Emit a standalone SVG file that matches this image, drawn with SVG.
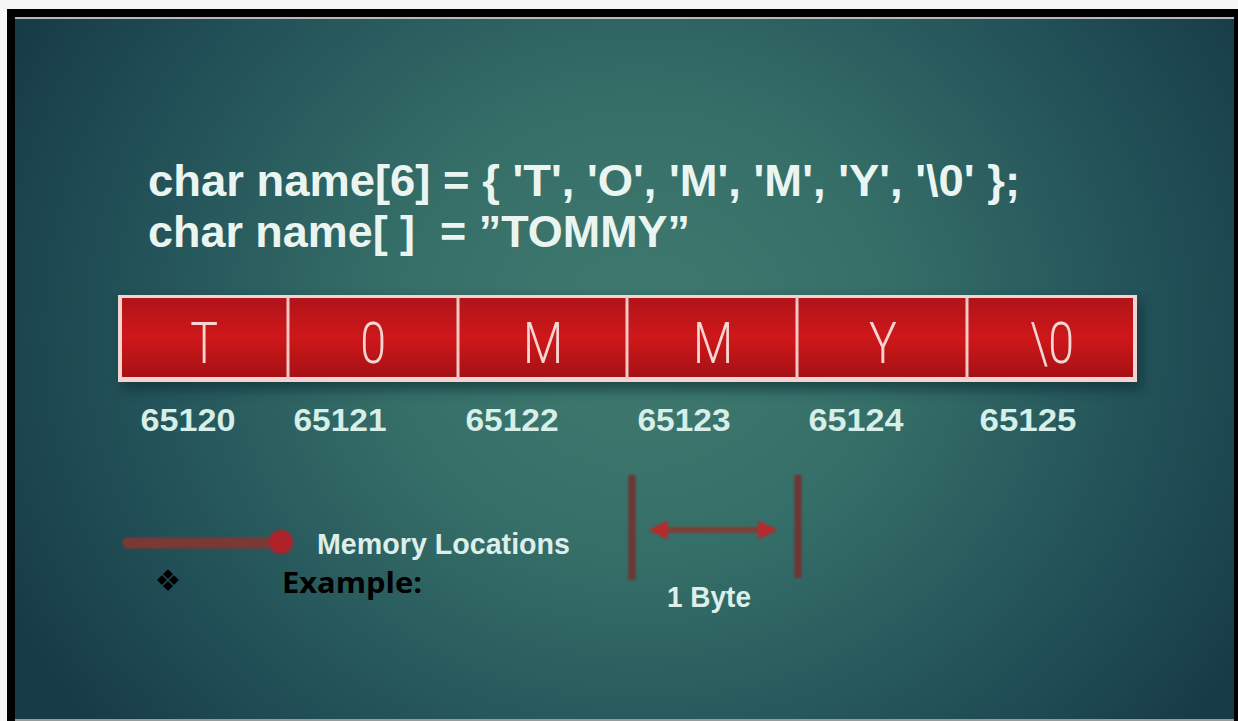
<svg xmlns="http://www.w3.org/2000/svg" width="1238" height="721" viewBox="0 0 1238 721">
  <defs>
    <!-- teal slide background, lighter towards the middle -->
    <radialGradient id="bg" gradientUnits="userSpaceOnUse" cx="640" cy="330" r="700" gradientTransform="translate(640 330) scale(1 0.9) translate(-640 -330)">
      <stop offset="0" stop-color="#3f7a6f"/>
      <stop offset="0.35" stop-color="#366f68"/>
      <stop offset="0.7" stop-color="#24545a"/>
      <stop offset="1" stop-color="#173c48"/>
    </radialGradient>
    <linearGradient id="cell" x1="0" y1="0" x2="0" y2="1">
      <stop offset="0" stop-color="#b0141a"/>
      <stop offset="0.5" stop-color="#cf1719"/>
      <stop offset="1" stop-color="#a51116"/>
    </linearGradient>
    <filter id="soft" x="-10%" y="-30%" width="120%" height="160%">
      <feGaussianBlur stdDeviation="6"/>
    </filter>
    <!-- canvas-wide region so thin horizontal/vertical strokes keep their blur -->
    <filter id="blur1" filterUnits="userSpaceOnUse" x="0" y="0" width="1238" height="721">
      <feGaussianBlur stdDeviation="1.2"/>
    </filter>
    <marker id="head" viewBox="0 0 10 10" refX="3" refY="5" markerWidth="3.2" markerHeight="3.2" orient="auto-start-reverse">
      <path d="M0,0 L10,5 L0,10 z" fill="#b52a2c"/>
    </marker>
    <style>
      .code { font-family: "Liberation Sans", Arial, sans-serif; font-weight: 700; font-size: 45px; fill: #eaf5f2; }
      .cellChar { font-family: Roboto, "Liberation Sans", sans-serif; font-weight: 300; font-size: 58px; fill: #f6d6d2; text-anchor: middle; }
      .addr { font-family: "Liberation Sans", Arial, sans-serif; font-weight: 700; font-size: 31px; fill: #d6efe9; text-anchor: middle; }
      .label { font-family: "Liberation Sans", Arial, sans-serif; font-weight: 700; font-size: 29px; fill: #dcefeb; }
      .example { font-family: "Open Sans", "Liberation Sans", sans-serif; font-weight: 700; font-size: 29px; fill: #000; }
      .divider { stroke: #f0c8c6; stroke-width: 3; }
      .tick { stroke: #6e3432; stroke-width: 7; stroke-linecap: butt; }
    </style>
  </defs>

  <!-- page and frame -->
  <rect x="0" y="0" width="1238" height="721" fill="#f7f7f7"/>
  <rect x="7" y="9" width="1231" height="712" fill="#000"/>
  <rect x="15" y="17" width="1219" height="2" fill="#b8b8b8"/>
  <rect x="15" y="19" width="1219" height="700" fill="url(#bg)"/>
  <rect x="15" y="719" width="1219" height="2" fill="#9a9a9a"/>

  <!-- declaration lines -->
  <g id="title">
    <text class="code" x="148" y="196" textLength="872" lengthAdjust="spacingAndGlyphs">char name[6] = { 'T', 'O', 'M', 'M', 'Y', '\0' };</text>
    <text class="code" x="148" y="247" textLength="542" lengthAdjust="spacingAndGlyphs" xml:space="preserve">char name[ ]  = ”TOMMY”</text>
  </g>

  <!-- array cells -->
  <g id="memory-bar">
    <rect x="122" y="300" width="1020" height="90" fill="#0d2a30" opacity="0.6" filter="url(#soft)"/>
    <rect x="118" y="295" width="1019" height="87" fill="#f2d4d2"/>
    <rect x="122" y="298" width="1011" height="79" fill="url(#cell)"/>
    <line class="divider" x1="288" y1="297" x2="288" y2="379"/>
    <line class="divider" x1="458" y1="297" x2="458" y2="379"/>
    <line class="divider" x1="627" y1="297" x2="627" y2="379"/>
    <line class="divider" x1="797" y1="297" x2="797" y2="379"/>
    <line class="divider" x1="967" y1="297" x2="967" y2="379"/>
    <g id="cell-0"><text class="cellChar" transform="translate(204 363) scale(0.8 1)">T</text></g>
    <g id="cell-1"><text class="cellChar" transform="translate(373 363) scale(0.8 1)">0</text></g>
    <g id="cell-2"><text class="cellChar" transform="translate(543 363) scale(0.8 1)">M</text></g>
    <g id="cell-3"><text class="cellChar" transform="translate(713 363) scale(0.8 1)">M</text></g>
    <g id="cell-4"><text class="cellChar" transform="translate(883 363) scale(0.8 1)">Y</text></g>
    <g id="cell-5"><text class="cellChar" transform="translate(1052 363) scale(0.8 1)">\0</text></g>
  </g>

  <!-- addresses under each cell -->
  <g id="addresses">
    <text class="addr" x="188" y="431" textLength="95" lengthAdjust="spacingAndGlyphs">65120</text>
    <text class="addr" x="340" y="431" textLength="93" lengthAdjust="spacingAndGlyphs">65121</text>
    <text class="addr" x="512" y="431" textLength="93" lengthAdjust="spacingAndGlyphs">65122</text>
    <text class="addr" x="684" y="431" textLength="93" lengthAdjust="spacingAndGlyphs">65123</text>
    <text class="addr" x="856" y="431" textLength="95" lengthAdjust="spacingAndGlyphs">65124</text>
    <text class="addr" x="1028" y="431" textLength="97" lengthAdjust="spacingAndGlyphs">65125</text>
  </g>

  <!-- legend: memory location pointer -->
  <g id="legend">
    <g filter="url(#blur1)">
      <line x1="128" y1="543" x2="278" y2="543" stroke="#7b3834" stroke-width="11" stroke-linecap="round"/>
      <circle cx="281" cy="542" r="12" fill="#b0202c"/>
    </g>
    <text class="label" x="317" y="554" textLength="253" lengthAdjust="spacingAndGlyphs">Memory Locations</text>
  </g>

  <!-- one byte width scale -->
  <g id="byte-scale">
    <g filter="url(#blur1)">
      <line class="tick" x1="632" y1="475" x2="632" y2="580"/>
      <line class="tick" x1="798" y1="475" x2="798" y2="578"/>
    </g>
    <text class="label" x="709" y="607" text-anchor="middle" textLength="84" lengthAdjust="spacingAndGlyphs">1 Byte</text>
  </g>

  <g id="connectors" filter="url(#blur1)">
    <line x1="662" y1="530" x2="764" y2="530" stroke="#7d4038" stroke-width="6" marker-start="url(#head)" marker-end="url(#head)"/>
  </g>

  <!-- bullet heading -->
  <g id="example">
    <text x="168" y="591" font-family="DejaVu Sans, sans-serif" font-size="30" fill="#000" text-anchor="middle">❖</text>
    <text class="example" x="282" y="593" textLength="140" lengthAdjust="spacingAndGlyphs">Example:</text>
  </g>
</svg>
